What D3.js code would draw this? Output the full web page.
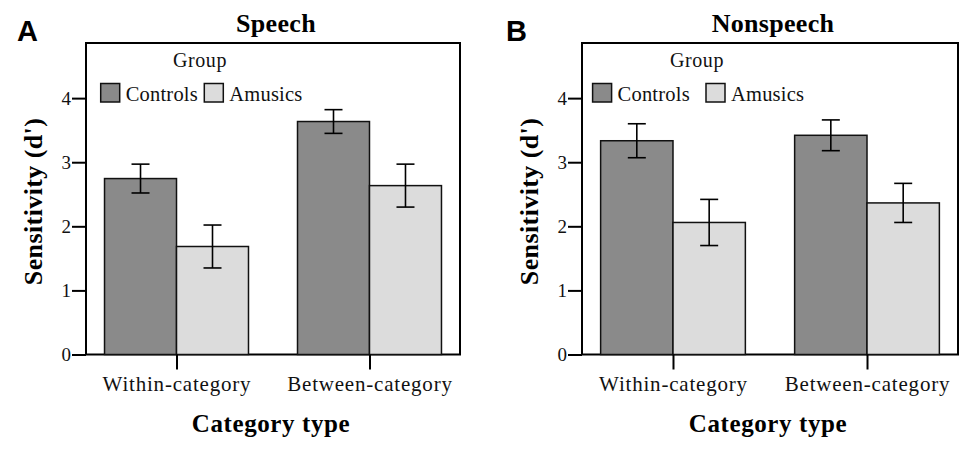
<!DOCTYPE html>
<html>
<head>
<meta charset="utf-8">
<script src="https://cdn.jsdelivr.net/npm/d3@7"></script>
<style>
  html, body { margin: 0; padding: 0; background: #fff; }
  svg { display: block; }
</style>
</head>
<body>
<svg id="chart" width="975" height="454"></svg>
<script>
// ---- data ----
const categories = ["Within-category", "Between-category"];
const groups = ["Controls", "Amusics"];
const yTicks = [0, 1, 2, 3, 4];

const speechControls = [2.745, 3.635];
const speechControlsErr = [0.225, 0.185];
const speechAmusics = [1.685, 2.635];
const speechAmusicsErr = [0.335, 0.335];

const nonspeechControls = [3.335, 3.42];
const nonspeechControlsErr = [0.265, 0.24];
const nonspeechAmusics = [2.06, 2.365];
const nonspeechAmusicsErr = [0.36, 0.305];

const panelLetters = ["A", "B"];
const panelTitles = ["Speech", "Nonspeech"];
const yTitle = "Sensitivity (d')";
const xTitle = "Category type";
const legendTitle = "Group";

// ---- styling ----
const colors = { Controls: "#8a8a8a", Amusics: "#dcdcdc" };
const serif = "'Liberation Serif', 'Times New Roman', serif";
const sans = "'Liberation Sans', Arial, sans-serif";

const svg = d3.select("#chart");

const panels = [
  { left: 86, right: 460, letter: panelLetters[0], title: panelTitles[0],
    controls: speechControls, controlsErr: speechControlsErr,
    amusics: speechAmusics, amusicsErr: speechAmusicsErr,
    letterX: 17, yTitleX: 42, legSw1: 14.7, legSw2: 118.3, groupX: 114 },
  { left: 582, right: 958, letter: panelLetters[1], title: panelTitles[1],
    controls: nonspeechControls, controlsErr: nonspeechControlsErr,
    amusics: nonspeechAmusics, amusicsErr: nonspeechAmusicsErr,
    letterX: 506, yTitleX: 538, legSw1: 10.6, legSw2: 124, groupX: 115 }
];

const plotTop = 43, plotBottom = 354.5;
const y = d3.scaleLinear().domain([0, 4.86]).range([plotBottom, plotTop]);

panels.forEach(p => {
  const g = svg.append("g");
  const x = d3.scalePoint().domain(categories).range([p.left, p.right]).padding(0.469);
  const step = x.step();
  const barW = step * 0.373;
  const xs = d3.scaleBand().domain(groups).range([-barW, barW]).padding(0);

  // frame
  g.append("rect")
    .attr("x", p.left).attr("y", plotTop)
    .attr("width", p.right - p.left).attr("height", plotBottom - plotTop)
    .attr("fill", "none").attr("stroke", "#000").attr("stroke-width", 2);

  // bars
  const rows = [];
  categories.forEach((c, i) => {
    rows.push({ cat: c, group: "Controls", v: p.controls[i], e: p.controlsErr[i] });
    rows.push({ cat: c, group: "Amusics", v: p.amusics[i], e: p.amusicsErr[i] });
  });

  g.selectAll("rect.bar").data(rows).join("rect")
    .attr("class", "bar")
    .attr("x", d => x(d.cat) + xs(d.group))
    .attr("y", d => y(d.v))
    .attr("width", xs.bandwidth())
    .attr("height", d => y(0) - y(d.v))
    .attr("fill", d => colors[d.group])
    .attr("stroke", "#111").attr("stroke-width", 1.5);

  // error bars
  const cap = 9;
  const eb = g.selectAll("g.err").data(rows).join("g").attr("class", "err")
    .attr("stroke", "#000").attr("stroke-width", 1.6);
  eb.append("line")
    .attr("x1", d => x(d.cat) + xs(d.group) + xs.bandwidth() / 2)
    .attr("x2", d => x(d.cat) + xs(d.group) + xs.bandwidth() / 2)
    .attr("y1", d => y(d.v + d.e)).attr("y2", d => y(d.v - d.e));
  eb.append("line")
    .attr("x1", d => x(d.cat) + xs(d.group) + xs.bandwidth() / 2 - cap)
    .attr("x2", d => x(d.cat) + xs(d.group) + xs.bandwidth() / 2 + cap)
    .attr("y1", d => y(d.v + d.e)).attr("y2", d => y(d.v + d.e));
  eb.append("line")
    .attr("x1", d => x(d.cat) + xs(d.group) + xs.bandwidth() / 2 - cap)
    .attr("x2", d => x(d.cat) + xs(d.group) + xs.bandwidth() / 2 + cap)
    .attr("y1", d => y(d.v - d.e)).attr("y2", d => y(d.v - d.e));

  // y axis
  const ya = g.append("g").attr("transform", `translate(${p.left},0)`)
    .call(d3.axisLeft(y).tickValues(yTicks).tickFormat(d3.format("d")).tickSize(14).tickPadding(1));
  ya.select(".domain").remove();
  ya.selectAll("line").attr("stroke", "#000").attr("stroke-width", 2);
  ya.selectAll("text").attr("font-family", serif).attr("font-size", 19).attr("fill", "#111");

  // x axis
  const xa = g.append("g").attr("transform", `translate(0,${plotBottom})`)
    .call(d3.axisBottom(x).tickSize(15).tickPadding(7));
  xa.select(".domain").remove();
  xa.selectAll("line").attr("stroke", "#000").attr("stroke-width", 2);
  xa.selectAll("text").attr("font-family", serif).attr("font-size", 21).attr("fill", "#111")
    .attr("letter-spacing", 0.8);

  // titles
  const cx = (p.left + p.right) / 2;
  g.append("text").attr("x", cx + 3).attr("y", 32)
    .attr("text-anchor", "middle").attr("font-family", serif).attr("font-weight", "bold")
    .attr("font-size", 26).attr("letter-spacing", 0.3).text(p.title);
  g.append("text").attr("x", p.letterX).attr("y", 41)
    .attr("font-family", sans).attr("font-weight", "bold").attr("font-size", 29).text(p.letter);
  g.append("text").attr("x", cx - 2).attr("y", 432)
    .attr("text-anchor", "middle").attr("font-family", serif).attr("font-weight", "bold")
    .attr("font-size", 25).attr("letter-spacing", 0.6).text(xTitle);
  g.append("text")
    .attr("transform", `translate(${p.yTitleX},201.5) rotate(-90)`)
    .attr("text-anchor", "middle").attr("font-family", serif).attr("font-weight", "bold")
    .attr("font-size", 26).attr("letter-spacing", 0.4).text(yTitle);

  // legend
  const lg = g.append("g");
  lg.append("text").attr("x", p.left + p.groupX).attr("y", 67)
    .attr("text-anchor", "middle").attr("font-family", serif).attr("font-size", 20)
    .attr("letter-spacing", 0.6).attr("fill", "#111")
    .text(legendTitle);
  const sw = [p.legSw1, p.legSw2];
  groups.forEach((grp, i) => {
    lg.append("rect").attr("x", p.left + sw[i]).attr("y", 83.5)
      .attr("width", 19).attr("height", 18.5)
      .attr("fill", colors[grp]).attr("stroke", "#111").attr("stroke-width", 1.5);
    lg.append("text").attr("x", p.left + sw[i] + 25).attr("y", 100.5)
      .attr("font-family", serif).attr("font-size", 20.5).attr("letter-spacing", 0.2)
      .attr("fill", "#111").text(grp);
  });
});
</script>
</body>
</html>
